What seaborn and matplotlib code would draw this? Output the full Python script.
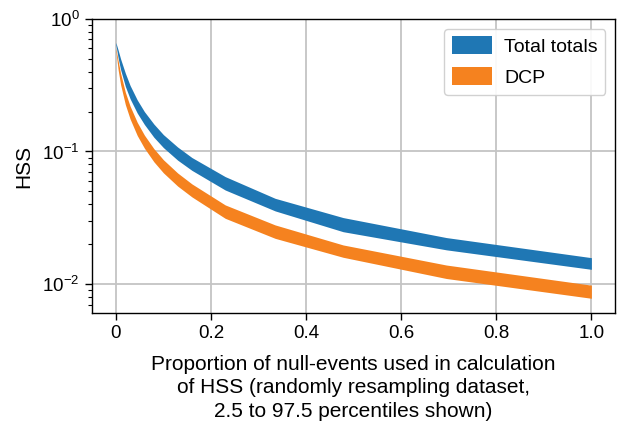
import numpy as np
import pandas as pd
import seaborn as sns
import matplotlib
matplotlib.use("Agg")
import matplotlib.pyplot as plt
from matplotlib.patches import Patch

# Proportion of null-events (x)
x_vals = [0.0, 0.005, 0.01, 0.02, 0.03, 0.045, 0.06, 0.08, 0.1, 0.13, 0.16,
          0.23, 0.335, 0.478, 0.695, 1.0]
# Total totals: 2.5 / 97.5 percentiles
tt_upper = [0.665, 0.58, 0.50, 0.39, 0.315, 0.245, 0.20, 0.161, 0.134, 0.108,
            0.090, 0.0646, 0.0443, 0.0317, 0.0224, 0.0158]
tt_lower = [0.64, 0.505, 0.415, 0.31, 0.25, 0.195, 0.16, 0.128, 0.107, 0.086,
            0.072, 0.0512, 0.0356, 0.0248, 0.0181, 0.0129]
# DCP: 2.5 / 97.5 percentiles
dcp_upper = [0.60, 0.48, 0.39, 0.28, 0.22, 0.166, 0.133, 0.105, 0.0866, 0.0688,
             0.0569, 0.0395, 0.0279, 0.0197, 0.0139, 0.0098]
dcp_lower = [0.575, 0.41, 0.32, 0.226, 0.176, 0.132, 0.106, 0.0836, 0.069, 0.0548,
             0.0454, 0.0313, 0.0221, 0.0159, 0.0110, 0.0078]

series_names = ["Total totals", "DCP"]
colors = ["#1f77b4", "#f5821f"]
x_ticks = [0.0, 0.2, 0.4, 0.6, 0.8, 1.0]
x_ticklabels = ["0", "0.2", "0.4", "0.6", "0.8", "1.0"]

rows = []
for name, up, lo in [(series_names[0], tt_upper, tt_lower),
                     (series_names[1], dcp_upper, dcp_lower)]:
    for xv, u, l in zip(x_vals, up, lo):
        rows.append({"x": xv, "HSS": u, "series": name})
        rows.append({"x": xv, "HSS": l, "series": name})
df = pd.DataFrame(rows)

sns.set_theme(style="ticks")
plt.rcParams["font.family"] = ["Liberation Sans", "DejaVu Sans"]
plt.rcParams["text.color"] = "black"
plt.rcParams["axes.labelcolor"] = "black"
plt.rcParams["xtick.color"] = "black"
plt.rcParams["ytick.color"] = "black"

fig = plt.figure(figsize=(6.22, 4.28), dpi=100)
ax = fig.add_axes([0.148, 0.2687, 0.841, 0.687])
ax.set_yscale("log")

sns.lineplot(data=df, x="x", y="HSS", hue="series", hue_order=series_names,
             palette=colors, estimator="mean", errorbar=("pi", 100),
             linewidth=0, err_kws={"alpha": 1.0, "linewidth": 0}, legend=False, ax=ax)

ax.set_xlim(-0.05, 1.05)
ax.set_ylim(0.00604, 1.0)
ax.set_xticks(x_ticks)
ax.set_xticklabels(x_ticklabels)
ax.grid(True, which="major", color="#c4c4c4", linewidth=1.3)
ax.set_axisbelow(True)
ax.tick_params(axis="both", which="major", labelsize=13.5, direction="out",
               length=5, width=1, color="black", labelcolor="black", pad=4)
ax.tick_params(axis="y", which="minor", length=3, width=0.8, color="black")
for s in ax.spines.values():
    s.set_color("black")
    s.set_linewidth(1.0)

ax.set_ylabel("HSS", fontsize=15, labelpad=6, color="black")
ax.set_xlabel("Proportion of null-events used in calculation\n"
              "of HSS (randomly resampling dataset,\n"
              "2.5 to 97.5 percentiles shown)", fontsize=15, labelpad=9,
              linespacing=1.3, color="black")

handles = [Patch(facecolor=c, edgecolor="none") for c in colors]
leg = ax.legend(handles, series_names, loc="upper right", fontsize=14,
                frameon=True, fancybox=True, framealpha=0.9, edgecolor="#cccccc",
                handlelength=2.1, handleheight=1.0, labelspacing=0.6,
                handletextpad=0.6)
for t in leg.get_texts():
    t.set_color("black")

fig.savefig("out.png", dpi=100)
